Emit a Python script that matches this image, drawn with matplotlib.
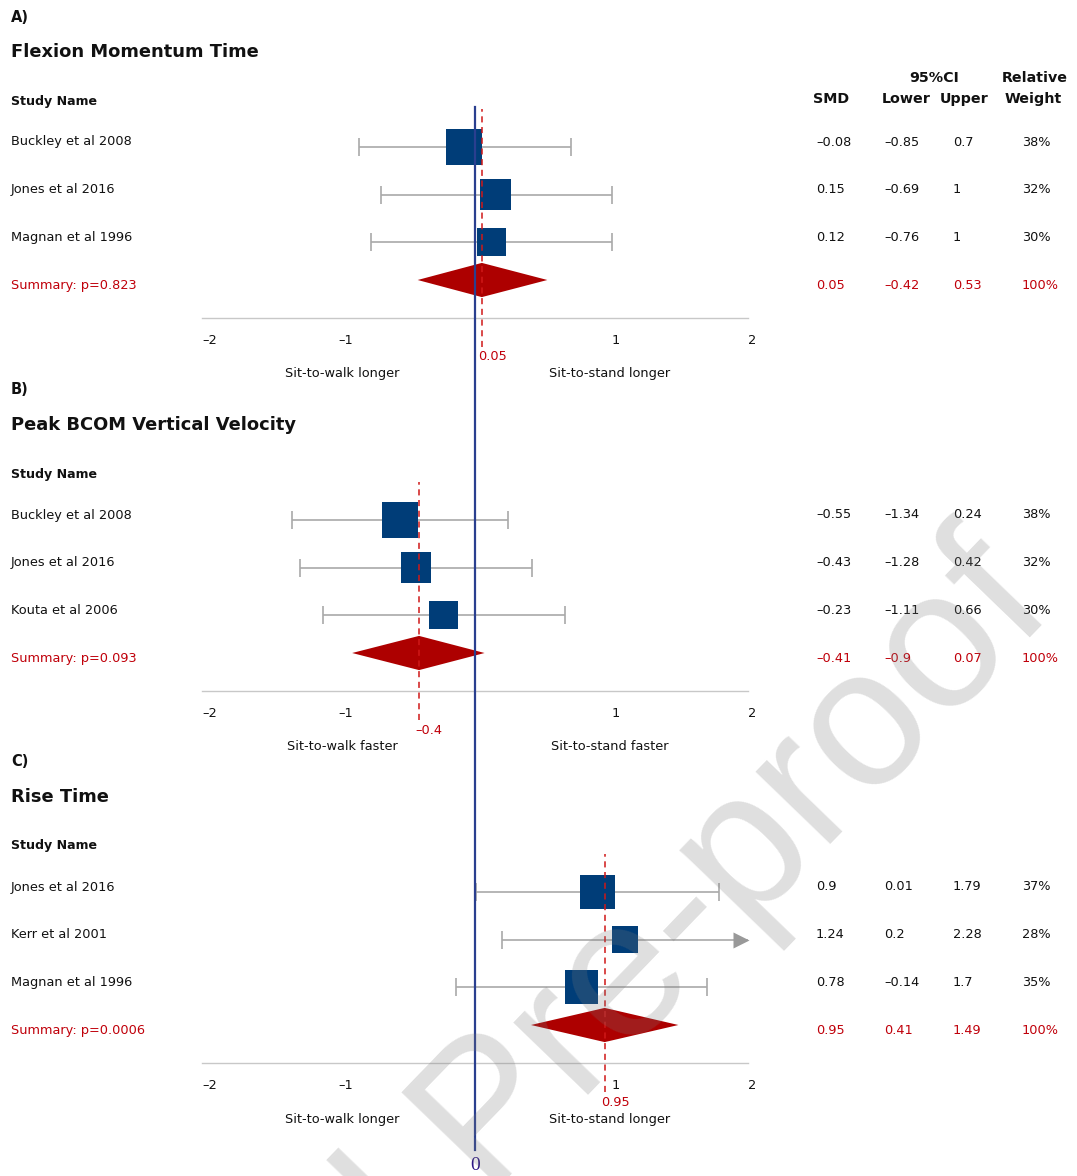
import numpy as np
import matplotlib
matplotlib.use("Agg")
import matplotlib.pyplot as plt
from matplotlib.patches import Polygon
from matplotlib.lines import Line2D
from matplotlib.transforms import blended_transform_factory

# ------------------------------------------------------------------
# data
# ------------------------------------------------------------------
panel_tags = ["A)", "B)", "C)"]
titles = ["Flexion Momentum Time", "Peak BCOM Vertical Velocity", "Rise Time"]

studies_a = ["Buckley et al 2008", "Jones et al 2016", "Magnan et al 1996"]
smd_a = [-0.08, 0.15, 0.12]
lower_a = [-0.85, -0.69, -0.76]
upper_a = [0.7, 1, 1]
weight_a = [38, 32, 30]
point_a = [-0.08, 0.15, 0.12]     # where the squares sit in the plot

studies_b = ["Buckley et al 2008", "Jones et al 2016", "Kouta et al 2006"]
smd_b = [-0.55, -0.43, -0.23]
lower_b = [-1.34, -1.28, -1.11]
upper_b = [0.24, 0.42, 0.66]
weight_b = [38, 32, 30]
point_b = [-0.55, -0.43, -0.23]

studies_c = ["Jones et al 2016", "Kerr et al 2001", "Magnan et al 1996"]
smd_c = [0.9, 1.24, 0.78]
lower_c = [0.01, 0.2, -0.14]
upper_c = [1.79, 2.28, 1.7]
weight_c = [37, 28, 35]
point_c = [0.9, 1.1, 0.78]        # Kerr square is drawn at ~1.1 in the original

summary_smd = [0.05, -0.41, 0.95]
summary_lower = [-0.42, -0.9, 0.41]
summary_upper = [0.53, 0.07, 1.49]
summary_p = ["0.823", "0.093", "0.0006"]
summary_label = ["0.05", "-0.4", "0.95"]

left_labels = ["Sit-to-walk longer", "Sit-to-walk faster", "Sit-to-walk longer"]
right_labels = ["Sit-to-stand longer", "Sit-to-stand faster", "Sit-to-stand longer"]

xticks = [-2, -1, 1, 2]

panels = [
    (studies_a, smd_a, lower_a, upper_a, weight_a, point_a),
    (studies_b, smd_b, lower_b, upper_b, weight_b, point_b),
    (studies_c, smd_c, lower_c, upper_c, weight_c, point_c),
]

# ------------------------------------------------------------------
# style
# ------------------------------------------------------------------
W, H = 1077, 1176
FONT = "DejaVu Sans"
BODY = 9.3
NAVY = "#003d78"
DIAMOND = "#ad0000"
RED_TXT = "#c0000a"
RED_DASH = "#d01818"
GREY = "#a9a9a9"
TXT = "#111111"

plt.rcParams["font.family"] = FONT


def fx(px):
    return px / W


def fy(py):
    return 1 - py / H


def num(v):
    return f"{v:g}".replace("-", "\u2013")


fig = plt.figure(figsize=(W / 100, H / 100), dpi=100)

offsets = [0, 373, 745]
row_gap = 47.7
col_x = [816, 884, 953, 1022]

# column headers (panel A only)
hdr = dict(ha="center", va="center", fontsize=10.3, fontweight="bold", color=TXT)
fig.text(fx(831), fy(99), "SMD", **hdr)
fig.text(fx(934), fy(78), "95%CI", **hdr)
fig.text(fx(906), fy(99), "Lower", **hdr)
fig.text(fx(964), fy(99), "Upper", **hdr)
fig.text(fx(1035), fy(78), "Relative", **hdr)
fig.text(fx(1033), fy(99), "Weight", **hdr)

axes = []
for k, (names, smd, lo, up, wt, pt) in enumerate(panels):
    o = offsets[k]
    fig.text(fx(11), fy(17 + o), panel_tags[k], ha="left", va="center", fontsize=10.5, fontweight="bold", color=TXT)
    fig.text(fx(11), fy(52 + o), titles[k], ha="left", va="center", fontsize=12.9, fontweight="bold", color=TXT)
    fig.text(fx(11), fy(101 + o), "Study Name", ha="left", va="center", fontsize=9.1, fontweight="bold", color=TXT)

    # text table
    for i in range(len(names)):
        ty = fy(142 + o + row_gap * i)
        fig.text(fx(11), ty, names[i], ha="left", va="center", fontsize=BODY, color=TXT)
        for cx, val in zip(col_x, [num(smd[i]), num(lo[i]), num(up[i]), f"{wt[i]}%"]):
            fig.text(fx(cx), ty, val, ha="left", va="center", fontsize=BODY, color=TXT)
    ty = fy(142 + o + row_gap * 3)
    fig.text(fx(11), ty, f"Summary: p={summary_p[k]}", ha="left", va="center", fontsize=BODY, color=RED_TXT)
    for cx, val in zip(col_x, [num(summary_smd[k]), num(summary_lower[k]), num(summary_upper[k]), "100%"]):
        fig.text(fx(cx), ty, val, ha="left", va="center", fontsize=BODY, color=RED_TXT)

    # forest axes
    ax = fig.add_axes([fx(202), fy(318 + o), fx(748) - fx(202), 209 / H])
    ax.set_xlim(-2, 2)
    ax.set_ylim(3.6, -0.8)
    for s in ["top", "left", "right"]:
        ax.spines[s].set_visible(False)
    ax.spines["bottom"].set_color("#c8c8c8")
    ax.spines["bottom"].set_linewidth(1.0)
    ax.set_yticks([])
    ax.set_xticks(xticks)
    ax.set_xticklabels([num(t) for t in xticks], fontsize=BODY, color=TXT)
    ax.tick_params(axis="x", length=0, pad=11.5)
    for lab in ax.get_xticklabels():
        lab.set_horizontalalignment("left")
    ax.patch.set_alpha(0)

    rows = np.arange(len(names))
    smd_arr = np.array(smd)
    lo_arr = np.array(lo)
    up_arr = np.array(up)
    ax.errorbar(smd_arr, rows, xerr=[smd_arr - lo_arr, up_arr - smd_arr], fmt="none",
                ecolor=GREY, elinewidth=1.2, capsize=6.2, capthick=1.2, zorder=2)
    # arrow where the interval leaves the axis
    xmax = ax.get_xlim()[1]
    for i in rows:
        if up_arr[i] > xmax:
            ax.plot([xmax - 0.05], [i], marker=">", ms=12, color="#999999", mec="none",
                    clip_on=False, zorder=2)
    ax.scatter(pt, rows, marker="s", s=(0.68 * np.array(wt)) ** 2, color=NAVY,
               linewidths=0, zorder=3)

    # summary diamond
    ys = 2.8
    dia = Polygon([[summary_lower[k], ys], [summary_smd[k], ys - 0.36],
                   [summary_upper[k], ys], [summary_smd[k], ys + 0.36]],
                  closed=True, facecolor=DIAMOND, edgecolor="none", zorder=3)
    ax.add_patch(dia)
    ax.axvline(summary_smd[k], ymin=-0.14, ymax=1, color=RED_DASH, lw=1.1,
               ls=(0, (4, 3)), clip_on=False, zorder=4)
    ax.annotate(summary_label[k].replace("-", "\u2013"), xy=(summary_smd[k], 0),
                xycoords=("data", "axes fraction"), xytext=(-4, -39), textcoords="offset pixels",
                ha="left", va="center", fontsize=BODY, color=RED_TXT)

    # direction labels
    ax.annotate(left_labels[k], xy=(-1, 0), xycoords=("data", "axes fraction"),
                xytext=(4, -56), textcoords="offset pixels", ha="center", va="center",
                fontsize=BODY, color=TXT)
    ax.annotate(right_labels[k], xy=(1, 0), xycoords=("data", "axes fraction"),
                xytext=(-2, -56), textcoords="offset pixels", ha="center", va="center",
                fontsize=BODY, color=TXT)
    axes.append(ax)

# line of no effect through all panels
trans = blended_transform_factory(axes[0].transData, fig.transFigure)
fig.add_artist(Line2D([0, 0], [fy(107), fy(1150)], transform=trans, color="#2a3f8f", lw=1.6, zorder=50))
fig.text(0, fy(1166), "0", transform=trans, ha="center", va="center", fontsize=14,
         family="Liberation Serif", color="#2c1585", zorder=50)

# watermark
fig.text(fx(1056), fy(610), "Journal Pre-proof", rotation=46, rotation_mode="anchor",
         ha="right", va="baseline", fontsize=141, family="Liberation Sans",
         color="#7a7a7a", alpha=0.24, zorder=100)

fig.savefig("out.png", dpi=100)
